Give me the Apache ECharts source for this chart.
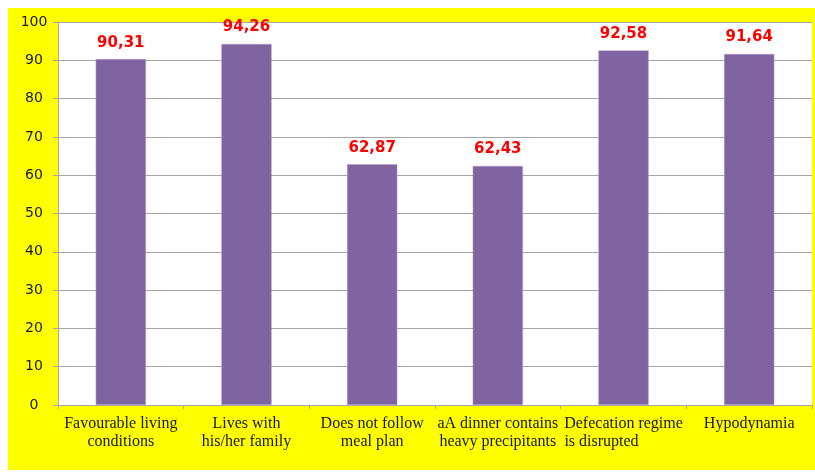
<!DOCTYPE html>
<html>
<head>
<meta charset="utf-8">
<script src="https://cdn.jsdelivr.net/npm/echarts@6/dist/echarts.min.js"></script>
<style>
  html, body { margin: 0; padding: 0; background: #fff; }
  #chart { position: absolute; left: 8px; top: 8px; width: 807px; height: 462px; background: #ffff00; }
</style>
</head>
<body>
<div id="chart"></div>
<script>
  // категории и значения
  const categories = [
    'Favourable living\nconditions',
    'Lives with\nhis/her family',
    'Does not follow\nmeal plan',
    'aA dinner contains\nheavy precipitants',
    'Defecation regime\nis disrupted           ',
    'Hypodynamia'
  ];
  const values = [90.31, 94.26, 62.87, 62.43, 92.58, 91.64];
  const yTicks = [0, 10, 20, 30, 40, 50, 60, 70, 80, 90, 100];

  const chart = echarts.init(document.getElementById('chart'));
  chart.setOption({
    backgroundColor: '#ffff00',
    animation: false,
    grid: {
      left: 50,
      right: 3,
      top: 14,
      bottom: 65,
      show: true,
      backgroundColor: '#ffffff',
      borderWidth: 0
    },
    xAxis: {
      type: 'category',
      data: categories,
      axisLine: { lineStyle: { color: '#a6a6a6', width: 1 } },
      axisTick: { show: true, length: 4, lineStyle: { color: '#a6a6a6' } },
      axisLabel: {
        interval: 0,
        margin: 10,
        fontFamily: 'Liberation Serif',
        fontSize: 16,
        lineHeight: 18,
        color: '#1a1a00'
      }
    },
    yAxis: {
      type: 'value',
      min: yTicks[0],
      max: yTicks[yTicks.length - 1],
      interval: 10,
      axisLine: { show: true, lineStyle: { color: '#a6a6a6' } },
      axisTick: { show: true, length: 5, lineStyle: { color: '#a6a6a6' } },
      splitLine: { lineStyle: { color: '#a6a6a6', width: 1 } },
      axisLabel: {
        margin: 24,
        align: 'center',
        fontFamily: 'DejaVu Sans',
        fontSize: 14,
        color: '#1a1a00'
      }
    },
    series: [{
      type: 'bar',
      data: values,
      barWidth: '40%',
      itemStyle: { color: '#8064a2', borderColor: '#b3a2c7', borderWidth: 0.5 },
      label: {
        show: true,
        position: 'top',
        distance: 9,
        color: '#ff0000',
        fontWeight: 'bold',
        fontFamily: 'DejaVu Sans',
        fontSize: 15,
        formatter: p => p.value.toFixed(2).replace('.', ',')
      }
    }]
  });
</script>
</body>
</html>
